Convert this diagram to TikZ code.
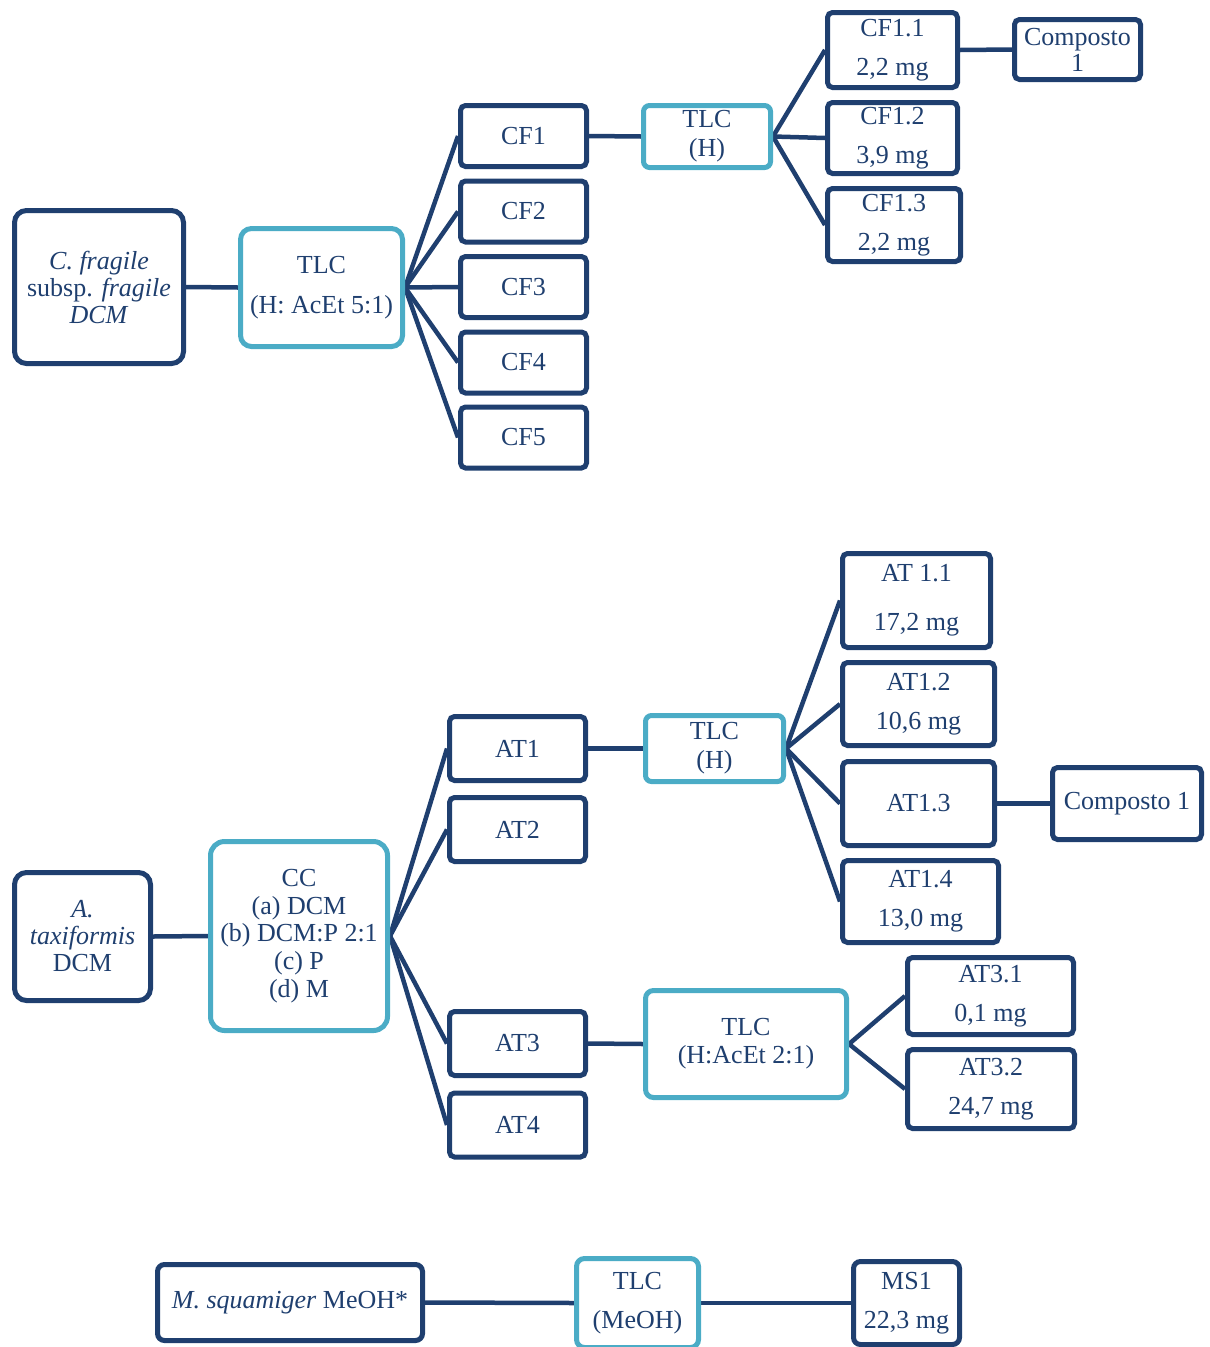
\documentclass[tikz,border=0pt]{standalone}
\usepackage{fontspec}
\setmainfont{Liberation Serif}
\pgfdeclarelayer{background}
\pgfsetlayers{background,main}
\definecolor{navy}{HTML}{1F3F6F}
\definecolor{lblue}{HTML}{4BACC6}
\tikzset{
  base/.style={fill=white, line width=5pt, inner sep=0pt, align=center, text=navy},
  dbox/.style={base, draw=navy, rounded corners=5pt},
  bigbox/.style={base, draw=navy, rounded corners=12pt},
  lbox/.style={base, draw=lblue, rounded corners=11pt},
  conn/.style={draw=navy, line width=4.5pt},
  tight/.style={font=\fontsize{26}{27}\selectfont},
  mid/.style={font=\fontsize{26}{29}\selectfont},
  wide/.style={font=\fontsize{26}{39}\selectfont},
}
\begin{document}
\begin{tikzpicture}[x=1pt, y=-1pt, font=\fontsize{26}{27}\selectfont]
\clip (0,0) rectangle (1210,1347);
% ---------- top ----------
\node[bigbox, tight, minimum width=169pt, minimum height=153pt] (cfr) at (99,287) {\textit{C. fragile}\\subsp. \textit{fragile}\\\textit{DCM}};
\node[lbox, font=\fontsize{26}{40}\selectfont, minimum width=162pt, minimum height=118pt] (tlca) at (321.5,287.5) {TLC\\(H: AcEt 5:1)};
\node[dbox, minimum width=126pt, minimum height=61pt] (cf1) at (523.5,136) {CF1};
\node[dbox, minimum width=126pt, minimum height=61pt] (cf2) at (523.5,211.5) {CF2};
\node[dbox, minimum width=126pt, minimum height=61pt] (cf3) at (523.5,287) {CF3};
\node[dbox, minimum width=126pt, minimum height=61pt] (cf4) at (523.5,362.5) {CF4};
\node[dbox, minimum width=126pt, minimum height=61pt] (cf5) at (523.5,437.5) {CF5};
\node[lbox, mid, rounded corners=6pt, minimum width=127pt, minimum height=62pt] (tlcb) at (707,136.5) {TLC\\(H)};
\node[dbox, wide, minimum width=130pt, minimum height=75pt] (cf11) at (892.5,50) {CF1.1\\2,2 mg};
\node[dbox, wide, minimum width=130pt, minimum height=71pt] (cf12) at (892.5,138) {CF1.2\\3,9 mg};
\node[dbox, wide, minimum width=133pt, minimum height=73pt] (cf13) at (894,225) {CF1.3\\2,2 mg};
\node[dbox, font=\fontsize{26}{26}\selectfont, minimum width=126pt, minimum height=60pt] (compa) at (1077.5,49.5) {Composto\\1};
% ---------- middle ----------
\node[bigbox, tight, minimum width=136pt, minimum height=128pt] (atx) at (82.5,936.5) {\textit{A.}\\\textit{taxiformis}\\DCM};
\node[lbox, font=\fontsize{26}{27.7}\selectfont, rounded corners=14pt, minimum width=177pt, minimum height=189pt] (cc) at (299,936) {CC\\(a) DCM\\(b) DCM:P 2:1\\(c) P\\(d) M};
\node[dbox, minimum width=136pt, minimum height=64pt] (at1) at (517.5,748.5) {AT1};
\node[dbox, minimum width=136pt, minimum height=64pt] (at2) at (517.5,829.5) {AT2};
\node[dbox, minimum width=136pt, minimum height=64pt] (at3) at (517.5,1043.5) {AT3};
\node[dbox, minimum width=136pt, minimum height=64pt] (at4) at (517.5,1125) {AT4};
\node[lbox, mid, rounded corners=6pt, minimum width=138pt, minimum height=66pt] (tlcc) at (714.5,748.5) {TLC\\(H)};
\node[dbox, font=\fontsize{26}{49}\selectfont, minimum width=148pt, minimum height=94pt] (at11) at (916.5,600.5) {AT 1.1\\17,2 mg};
\node[dbox, wide, minimum width=152pt, minimum height=83pt] (at12) at (918.5,704) {AT1.2\\10,6 mg};
\node[dbox, minimum width=152pt, minimum height=84pt] (at13) at (918.5,803.5) {AT1.3};
\node[dbox, wide, minimum width=156pt, minimum height=82pt] (at14) at (920.5,901.5) {AT1.4\\13,0 mg};
\node[dbox, minimum width=149pt, minimum height=72pt] (compb) at (1127,803.5) {Composto 1};
\node[lbox, font=\fontsize{26}{28}\selectfont, rounded corners=8pt, minimum width=201pt, minimum height=107pt] (tlcd) at (746,1044) {TLC\\(H:AcEt 2:1)};
\node[dbox, wide, minimum width=166pt, minimum height=77pt] (at31) at (990.5,996) {AT3.1\\0,1 mg};
\node[dbox, wide, minimum width=167pt, minimum height=79pt] (at32) at (991,1089) {AT3.2\\24,7 mg};
% ---------- bottom ----------
\node[dbox, rounded corners=7pt, minimum width=265pt, minimum height=76pt] (msq) at (290,1302.5) {\textit{M. squamiger} MeOH*};
\node[lbox, wide, rounded corners=8pt, minimum width=122pt, minimum height=89pt] (tlce) at (637.5,1303) {TLC\\(MeOH)};
\node[dbox, wide, rounded corners=7pt, minimum width=106pt, minimum height=83pt] (ms1) at (906.5,1303) {MS1\\22,3 mg};
% ---------- connectors ----------
\begin{pgfonlayer}{background}
\draw[conn] (cfr.east) -- (tlca.west);
\foreach \n in {cf1,cf2,cf3,cf4,cf5} \draw[conn] (tlca.east) -- (\n.west);
\draw[conn] (cf1.east) -- (tlcb.west);
\foreach \n in {cf11,cf12,cf13} \draw[conn] (tlcb.east) -- (\n.west);
\draw[conn] (cf11.east) -- (compa.west);
\draw[conn] (atx.east) -- (cc.west);
\foreach \n in {at1,at2,at3,at4} \draw[conn] (cc.east) -- (\n.west);
\draw[conn] (at1.east) -- (tlcc.west);
\foreach \n in {at11,at12,at13,at14} \draw[conn] (tlcc.east) -- (\n.west);
\draw[conn] (at13.east) -- (compb.west);
\draw[conn] (at3.east) -- (tlcd.west);
\foreach \n in {at31,at32} \draw[conn] (tlcd.east) -- (\n.west);
\draw[conn] (msq.east) -- (tlce.west);
\draw[conn] (tlce.east) -- (ms1.west);
\end{pgfonlayer}
\end{tikzpicture}
\end{document}
